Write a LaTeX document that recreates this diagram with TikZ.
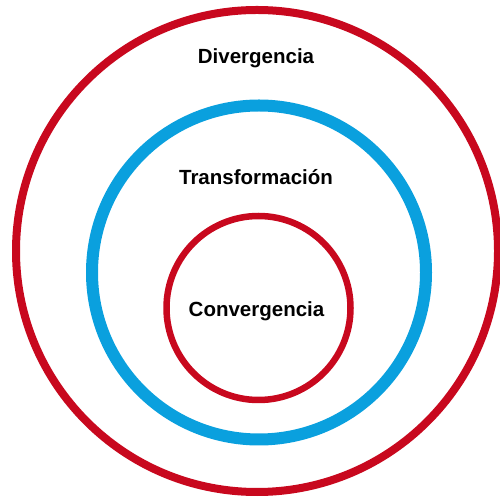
\documentclass[tikz,border=0pt]{standalone}
\usepackage{fontspec}
\setmainfont{Liberation Sans}
\definecolor{ringred}{RGB}{200,8,30}
\definecolor{ringblue}{RGB}{10,160,222}
\tikzset{Red Ring Style/.style={draw=ringred, line width=8pt},
	Blue Ring Style/.style={draw=ringblue, line width=12pt},
	Label Style/.style={font=\fontsize{20.5}{24}\selectfont\bfseries, text=black, inner sep=0pt}}

\begin{document}
\begin{tikzpicture}[x=1pt,y=1pt]
		\useasboundingbox (0,0) rectangle (499,500);
		% the three rings
		\draw [Red Ring Style] (257,249) circle (241);
		\draw [Blue Ring Style] (259,227.5) circle (167);
		\draw [Red Ring Style, line width=6.5pt] (258.5,192) circle (92);
		
		\node [Label Style] (div) at (256,442) {Divergencia};
		\node [Label Style] (trans) at (256,323) {Transformación};
		\node [Label Style] (conv) at (256.5,189) {Convergencia};
	\end{tikzpicture}
\end{document}
